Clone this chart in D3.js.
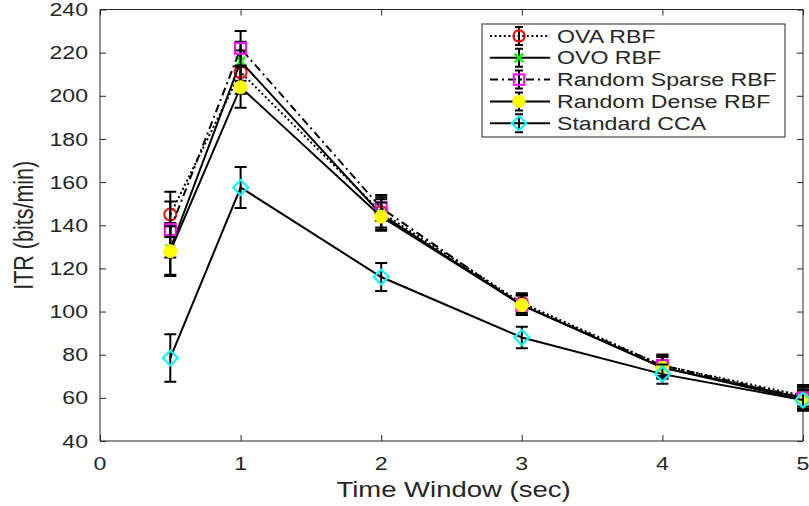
<!DOCTYPE html>
<html><head><meta charset="utf-8">
<script src="https://cdn.jsdelivr.net/npm/d3@7"></script>
<style>
html,body{margin:0;padding:0;background:#fff;}
svg{display:block;}
text{font-family:"Liberation Sans",Arial,sans-serif;fill:#262626;}
</style></head>
<body>
<svg id="chart" width="809" height="506"></svg>
<script>
// ---- data ----
const xValues = [0.5, 1, 2, 3, 4, 5];
const seriesNames = ["OVA RBF", "OVO RBF", "Random Sparse RBF", "Random Dense RBF", "Standard CCA"];
const ovaRBF    = [145, 211, 146, 104, 75, 61];
const ovoRBF    = [129, 216, 145, 103, 74, 60];
const sparseRBF = [138, 222, 148, 103, 75, 60];
const denseRBF  = [128, 204, 144, 103, 74, 59];
const stdCCA    = [78.5, 157.5, 116, 88, 71, 59];
const ovaErr    = [10.5, 10, 7, 4.5, 5, 5];
const ovoErr    = [12, 9, 7, 4.5, 5, 5];
const sparseErr = [13, 8, 6, 4.5, 5, 5];
const denseErr  = [11.5, 9.5, 6.5, 4.5, 5, 5];
const ccaErr    = [11, 9.5, 6.5, 5, 4.5, 4.5];
const xTicks = [0, 1, 2, 3, 4, 5];
const yTicks = [40, 60, 80, 100, 120, 140, 160, 180, 200, 220, 240];
const xLabel = "Time Window (sec)";
const yLabel = "ITR (bits/min)";

// ---- styles ----
const styles = [
  {dash: "2,2.6", marker: "circle", color: "#ff0000"},
  {dash: null, marker: "x", color: "#00ff00"},
  {dash: "8,4,2,4", marker: "square", color: "#ff00ff"},
  {dash: null, marker: "dot", color: "#ffff00"},
  {dash: null, marker: "diamond", color: "#00ffff"}
];
const series = [
  {name: seriesNames[0], v: ovaRBF, e: ovaErr},
  {name: seriesNames[1], v: ovoRBF, e: ovoErr},
  {name: seriesNames[2], v: sparseRBF, e: sparseErr},
  {name: seriesNames[3], v: denseRBF, e: denseErr},
  {name: seriesNames[4], v: stdCCA, e: ccaErr}
];

const SX = 1.25; // horizontal text stretch
const L = 100, R = 803, T = 9.5, B = 441;
const svg = d3.select("#chart");
const x = d3.scaleLinear().domain([0, 5]).range([L, R]);
const y = d3.scaleLinear().domain([40, 240]).range([B, T]);
const axisColor = "#262626";

function stretchedText(g, tx, ty, str, size, anchor) {
  return g.append("text")
    .attr("transform", `translate(${tx},${ty}) scale(${SX},1)`)
    .attr("text-anchor", anchor)
    .attr("dominant-baseline", "central")
    .style("font-size", size + "px")
    .text(str);
}

// clip
svg.append("defs").append("clipPath").attr("id", "clip")
  .append("rect").attr("x", L - 10).attr("y", 0).attr("width", 809 - L + 10).attr("height", B + 10);

// axes (ticks inside)
const gx = svg.append("g").attr("transform", `translate(0,${B})`)
  .call(d3.axisBottom(x).tickValues(xTicks).tickSize(-6).tickFormat(""));
const gxTop = svg.append("g").attr("transform", `translate(0,${T})`)
  .call(d3.axisTop(x).tickValues(xTicks).tickSize(-6).tickFormat(""));
const gy = svg.append("g").attr("transform", `translate(${L},0)`)
  .call(d3.axisLeft(y).tickValues(yTicks).tickSize(-6).tickFormat(""));
const gyR = svg.append("g").attr("transform", `translate(${R},0)`)
  .call(d3.axisRight(y).tickValues(yTicks).tickSize(-6).tickFormat(""));
[gx, gxTop, gy, gyR].forEach(g => {
  g.selectAll(".domain").attr("stroke", axisColor).attr("stroke-width", 1);
  g.selectAll(".tick line").attr("stroke", axisColor).attr("stroke-width", 1);
});
gx.selectAll(".domain").attr("d", `M${L},0H${R}`);
gxTop.selectAll(".domain").attr("d", `M${L},0H${R}`);
gy.selectAll(".domain").attr("d", `M0,${B}V${T}`);
gyR.selectAll(".domain").attr("d", `M0,${B}V${T}`);

// tick labels
const labels = svg.append("g");
yTicks.forEach(t => stretchedText(labels, L - 12, y(t), String(t), 18.5, "end"));
xTicks.forEach(t => stretchedText(labels, x(t), B + 22, String(t), 18.5, "middle"));
stretchedText(labels, (L + R) / 2 + 2, 489, xLabel, 22, "middle");
labels.append("text")
  .attr("transform", `translate(24,${(T + B) / 2}) scale(${SX},1) rotate(-90)`)
  .attr("text-anchor", "middle").attr("dominant-baseline", "central")
  .style("font-size", "21.5px").text(yLabel);

// markers
function drawMarker(g, type, cx, cy, color, s) {
  s = s || 1;
  if (type === "circle") {
    g.append("circle").attr("cx", cx).attr("cy", cy).attr("r", 6 * s)
      .attr("fill", "none").attr("stroke", color).attr("stroke-width", 2);
  } else if (type === "x") {
    const d = 4.5 * s;
    g.append("path").attr("d", `M${cx - d},${cy - d}L${cx + d},${cy + d}M${cx - d},${cy + d}L${cx + d},${cy - d}`)
      .attr("stroke", color).attr("stroke-width", 2.4).attr("fill", "none");
  } else if (type === "square") {
    const d = 5.5 * s;
    g.append("rect").attr("x", cx - d).attr("y", cy - d).attr("width", 2 * d).attr("height", 2 * d)
      .attr("fill", "none").attr("stroke", color).attr("stroke-width", 2);
  } else if (type === "dot") {
    g.append("circle").attr("cx", cx).attr("cy", cy).attr("r", 6.5 * s)
      .attr("fill", color).attr("stroke", color).attr("stroke-width", 1);
  } else if (type === "diamond") {
    const d = 7.5 * s;
    g.append("path").attr("d", `M${cx},${cy - d}L${cx + d},${cy}L${cx},${cy + d}L${cx - d},${cy}Z`)
      .attr("fill", "none").attr("stroke", color).attr("stroke-width", 2.2);
  }
}

// series
const plot = svg.append("g").attr("clip-path", "url(#clip)");
const line = d3.line().x(d => x(d[0])).y(d => y(d[1]));
series.forEach((s, i) => {
  const st = styles[i];
  const g = plot.append("g");
  const pts = xValues.map((xv, k) => [xv, s.v[k]]);
  g.append("path").attr("d", line(pts)).attr("fill", "none")
    .attr("stroke", "#000").attr("stroke-width", 2)
    .attr("stroke-dasharray", st.dash);
  const cap = 6;
  xValues.forEach((xv, k) => {
    const cx = x(xv), y1 = y(s.v[k] + s.e[k]), y0 = y(s.v[k] - s.e[k]);
    g.append("path")
      .attr("d", `M${cx},${y0}V${y1}M${cx - cap},${y1}H${cx + cap}M${cx - cap},${y0}H${cx + cap}`)
      .attr("stroke", "#000").attr("stroke-width", 2).attr("fill", "none");
  });
  xValues.forEach((xv, k) => drawMarker(g, st.marker, x(xv), y(s.v[k]), st.color));
});

// legend
const lg = svg.append("g");
lg.append("rect").attr("x", 482).attr("y", 24).attr("width", 303).attr("height", 113)
  .attr("fill", "#fff").attr("stroke", axisColor).attr("stroke-width", 1);
series.forEach((s, i) => {
  const st = styles[i];
  const ly = 36 + i * 21.8;
  lg.append("line").attr("x1", 490).attr("x2", 550).attr("y1", ly).attr("y2", ly)
    .attr("stroke", "#000").attr("stroke-width", 2).attr("stroke-dasharray", st.dash);
  lg.append("path").attr("d", `M519,${ly - 9}V${ly + 9}M515,${ly - 9}H523M515,${ly + 9}H523`)
    .attr("stroke", "#000").attr("stroke-width", 2).attr("fill", "none");
  drawMarker(lg, st.marker, 519, ly, st.color, 0.95);
  stretchedText(lg, 557, ly, s.name, 18.5, "start");
});
</script>
</body></html>
